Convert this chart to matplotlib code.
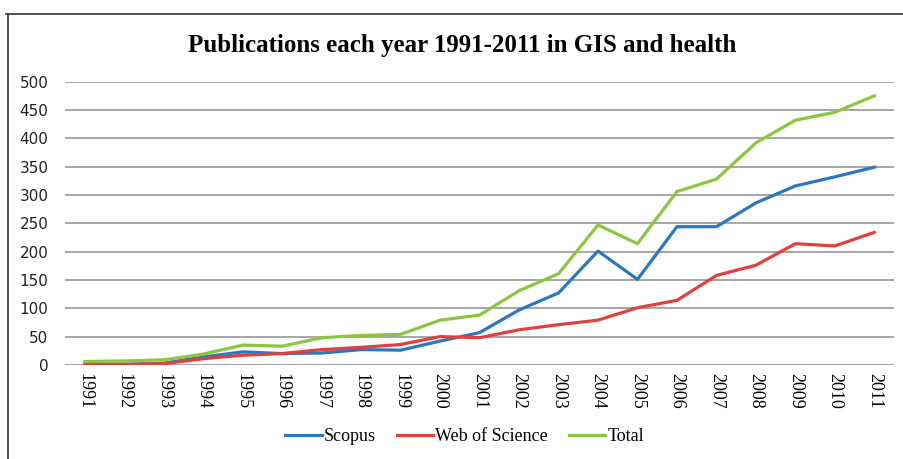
import matplotlib.pyplot as plt
from matplotlib.lines import Line2D
import numpy as np

years = [str(y) for y in range(1991, 2012)]
scopus = [1, 1, 3, 14, 23, 20, 21, 27, 26, 42, 57, 97, 127, 201, 151, 244, 244, 286, 316, 332, 349]
wos = [0, 1, 2, 11, 17, 20, 27, 31, 36, 50, 48, 62, 71, 79, 101, 114, 158, 176, 214, 210, 234]
total = [6, 7, 9, 19, 35, 33, 48, 52, 54, 79, 88, 131, 161, 247, 214, 306, 328, 392, 432, 446, 475]

serif = "Liberation Serif"

fig = plt.figure(figsize=(9.04, 4.59), dpi=100)
ax = fig.add_axes([0.072, 0.205, 0.917, 0.617])

x = np.arange(len(years))
ax.plot(x, scopus, color="#2a78c2", lw=2.3, label="Scopus")
ax.plot(x, wos, color="#e0403e", lw=2.3, label="Web of Science")
ax.plot(x, total, color="#8cc540", lw=2.3, label="Total")

ax.set_xlim(-0.5, len(years) - 0.5)
ax.set_ylim(0, 500)
ax.set_yticks(range(0, 501, 50))
ax.set_xticks(x)
ax.set_xticklabels(years, rotation=-90, fontfamily=serif, fontsize=13)
ax.tick_params(axis="x", length=0, pad=6)
ax.tick_params(axis="y", length=0, pad=12, labelsize=11)
for t in ax.get_yticklabels():
    t.set_fontfamily("DejaVu Sans")
    t.set_color("#222222")

ax.grid(axis="y", color="#a6a6a6", lw=1.4)
ax.set_axisbelow(True)
for s in ax.spines.values():
    s.set_visible(False)

fig.text(0.511, 0.90, "Publications each year 1991-2011 in GIS and health",
         ha="center", va="center", fontsize=18, fontweight="bold", fontfamily=serif)

fig.legend(loc="center", bbox_to_anchor=(0.514, 0.048), ncol=3, frameon=False,
           prop={"family": serif, "size": 13}, handlelength=2.0, handletextpad=0.1,
           columnspacing=1.2)

# outer frame (top and left edges visible in the reference)
fig.add_artist(Line2D([6 / 904, 1], [1 - 14 / 459, 1 - 14 / 459], color="#333333", lw=1.2))
fig.add_artist(Line2D([8 / 904, 8 / 904], [0, 1 - 14 / 459], color="#333333", lw=1.2))

fig.savefig("out.png", dpi=100)
